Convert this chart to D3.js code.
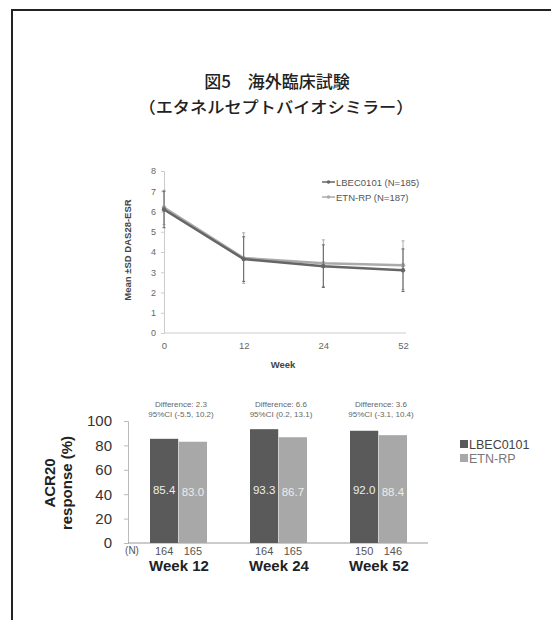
<!DOCTYPE html>
<html>
<head>
<meta charset="utf-8">
<script src="https://cdn.jsdelivr.net/npm/d3@7"></script>
<style>
  body { margin: 0; background: #fff; }
  text { font-family: "Liberation Sans", Arial, sans-serif; }
</style>
</head>
<body>
<div id="chart"></div>
<script>
// line chart data (DAS28-ESR mean, SD)
var weeks = ["0", "12", "24", "52"];
var lbecMean = [6.1, 3.65, 3.3, 3.1];
var lbecSD = [0.9, 1.1, 1.05, 1.05];
var etnMean = [6.2, 3.7, 3.45, 3.35];
var etnSD = [0.85, 1.25, 1.15, 1.2];
var lineYTicks = [0, 1, 2, 3, 4, 5, 6, 7, 8];

// bar chart data (ACR20)
var groups = ["Week 12", "Week 24", "Week 52"];
var series = ["LBEC0101", "ETN-RP"];
var lbecAcr = [85.4, 93.3, 92.0];
var etnAcr = [83.0, 86.7, 88.4];
var lbecN = [164, 164, 150];
var etnN = [165, 165, 146];
var diffText = ["Difference: 2.3", "Difference: 6.6", "Difference: 3.6"];
var ciText = ["95%CI (-5.5, 10.2)", "95%CI (0.2, 13.1)", "95%CI (-3.1, 10.4)"];
var barYTicks = [0, 20, 40, 60, 80, 100];

var width = 551, height = 620;
var svg = d3.select("#chart").append("svg")
    .attr("width", width)
    .attr("height", height);

// frame (cut off at right / bottom like the scan)
svg.append("rect")
    .attr("x", 12).attr("y", 10)
    .attr("width", 600).attr("height", 700)
    .attr("fill", "none")
    .attr("stroke", "#222")
    .attr("stroke-width", 2);

// title
svg.append("text")
    .attr("x", 277).attr("y", 88)
    .attr("text-anchor", "middle")
    .style("font-family", "'Noto Sans CJK JP', sans-serif")
    .style("font-size", "17px")
    .style("font-weight", 500)
    .attr("fill", "#222")
    .text("図5\u3000海外臨床試験");
svg.append("text")
    .attr("x", 276).attr("y", 113)
    .attr("text-anchor", "middle")
    .attr("textLength", 275)
    .attr("lengthAdjust", "spacingAndGlyphs")
    .style("font-family", "'Noto Sans CJK JP', sans-serif")
    .style("font-size", "16px")
    .style("font-weight", 500)
    .attr("fill", "#222")
    .text("（エタネルセプトバイオシミラー）");

// ---------------- line chart ----------------
var x = d3.scalePoint().domain(weeks).range([164, 403]);
var y = d3.scaleLinear().domain([0, 8]).range([333, 171]);

var yAxisL = svg.append("g")
    .attr("transform", "translate(164,0)")
    .call(d3.axisLeft(y).tickValues(lineYTicks).tickSize(3).tickPadding(5));
yAxisL.select(".domain").attr("stroke", "#ccc");
yAxisL.selectAll(".tick line").attr("stroke", "#ccc");
yAxisL.selectAll("text").attr("fill", "#666").style("font-size", "9px");

var xAxisL = svg.append("g")
    .attr("transform", "translate(0,333)")
    .call(d3.axisBottom(x).tickSize(0).tickPadding(9));
xAxisL.select(".domain").attr("stroke", "#ccc").attr("d", "M164,0H406");
xAxisL.selectAll("text").attr("fill", "#666").style("font-size", "9.5px");

svg.append("text")
    .attr("x", 283).attr("y", 368)
    .attr("text-anchor", "middle")
    .style("font-size", "9.5px").style("font-weight", "bold")
    .attr("fill", "#444")
    .text("Week");

svg.append("text")
    .attr("transform", "translate(131,250) rotate(-90)")
    .attr("text-anchor", "middle")
    .style("font-size", "9.5px").style("font-weight", "bold")
    .attr("fill", "#444")
    .text("Mean ±SD DAS28-ESR");

var lineSeries = [
  {name: "ETN-RP (N=187)", mean: etnMean, sd: etnSD, color: "#aaa"},
  {name: "LBEC0101 (N=185)", mean: lbecMean, sd: lbecSD, color: "#666"}
];
var line = d3.line()
    .x(function (d, i) { return x(weeks[i]); })
    .y(function (d) { return y(d); });

lineSeries.forEach(function (s) {
  var g = svg.append("g");
  g.selectAll("line.err")
    .data(s.mean)
    .enter().append("line")
      .attr("x1", function (d, i) { return x(weeks[i]); })
      .attr("x2", function (d, i) { return x(weeks[i]); })
      .attr("y1", function (d, i) { return y(d - s.sd[i]); })
      .attr("y2", function (d, i) { return y(d + s.sd[i]); })
      .attr("stroke", s.color).attr("stroke-width", 1);
  g.selectAll("line.cap")
    .data(s.mean.concat(s.mean))
    .enter().append("line")
      .attr("x1", function (d, i) { return x(weeks[i % 4]) - 1.5; })
      .attr("x2", function (d, i) { return x(weeks[i % 4]) + 1.5; })
      .attr("y1", function (d, i) { return y(i < 4 ? d - s.sd[i] : d + s.sd[i % 4]); })
      .attr("y2", function (d, i) { return y(i < 4 ? d - s.sd[i] : d + s.sd[i % 4]); })
      .attr("stroke", s.color).attr("stroke-width", 1);
  g.append("path")
    .datum(s.mean)
    .attr("d", line)
    .attr("fill", "none")
    .attr("stroke", s.color)
    .attr("stroke-width", 2.5);
  g.selectAll("circle")
    .data(s.mean)
    .enter().append("circle")
      .attr("cx", function (d, i) { return x(weeks[i]); })
      .attr("cy", function (d) { return y(d); })
      .attr("r", 2.2)
      .attr("fill", s.color);
});

// legend for line chart
var lineLeg = [lineSeries[1], lineSeries[0]];
lineLeg.forEach(function (s, i) {
  var ly = 182 + i * 15;
  svg.append("line")
    .attr("x1", 322).attr("x2", 335)
    .attr("y1", ly).attr("y2", ly)
    .attr("stroke", s.color).attr("stroke-width", 1.5);
  svg.append("circle").attr("cx", 328.5).attr("cy", ly).attr("r", 1.8).attr("fill", s.color);
  svg.append("text")
    .attr("x", 336).attr("y", ly + 3.5)
    .style("font-size", "9.5px")
    .attr("fill", "#555")
    .text(s.name);
});

// ---------------- bar chart ----------------
var x0 = d3.scaleBand().domain(groups).range([128, 428]);
var x1 = d3.scaleBand().domain(series).range([22, 79]).paddingInner(0.02);
var yb = d3.scaleLinear().domain([0, 100]).range([543, 421]);
var barColor = {"LBEC0101": "#5a5a5a", "ETN-RP": "#a8a8a8"};
var labelColor = {"LBEC0101": "#eee", "ETN-RP": "#ececec"};

var yAxisB = svg.append("g")
    .attr("transform", "translate(128,0)")
    .call(d3.axisLeft(yb).tickValues(barYTicks).tickSize(4).tickPadding(12));
yAxisB.select(".domain").attr("stroke", "#bbb");
yAxisB.selectAll(".tick line").attr("stroke", "#bbb");
yAxisB.selectAll("text").attr("fill", "#333").style("font-size", "15px");

svg.append("line")
    .attr("x1", 128).attr("x2", 428)
    .attr("y1", yb(0)).attr("y2", yb(0))
    .attr("stroke", "#999");

var barData = [];
groups.forEach(function (g, i) {
  barData.push({group: g, s: "LBEC0101", v: lbecAcr[i], n: lbecN[i]});
  barData.push({group: g, s: "ETN-RP", v: etnAcr[i], n: etnN[i]});
});

svg.append("g").selectAll("rect")
  .data(barData)
  .enter().append("rect")
    .attr("x", function (d) { return x0(d.group) + x1(d.s); })
    .attr("y", function (d) { return yb(d.v); })
    .attr("width", x1.bandwidth())
    .attr("height", function (d) { return yb(0) - yb(d.v); })
    .attr("fill", function (d) { return barColor[d.s]; });

svg.append("g").selectAll("text")
  .data(barData)
  .enter().append("text")
    .attr("x", function (d) { return x0(d.group) + x1(d.s) + x1.bandwidth() / 2; })
    .attr("y", function (d) { return d.s === "LBEC0101" ? 494 : 496; })
    .attr("text-anchor", "middle")
    .style("font-size", "11.5px")
    .attr("fill", function (d) { return labelColor[d.s]; })
    .text(function (d) { return d.v.toFixed(1); });

// N row
svg.append("text")
    .attr("x", 132).attr("y", 554)
    .attr("text-anchor", "middle")
    .style("font-size", "10px").attr("fill", "#555")
    .text("(N)");
svg.append("g").selectAll("text")
  .data(barData)
  .enter().append("text")
    .attr("x", function (d) { return x0(d.group) + x1(d.s) + x1.bandwidth() / 2; })
    .attr("y", 555)
    .attr("text-anchor", "middle")
    .style("font-size", "11px").attr("fill", "#555")
    .text(function (d) { return d.n; });

// group labels
svg.append("g").selectAll("text")
  .data(groups)
  .enter().append("text")
    .attr("x", function (d) { return x0(d) + x0.bandwidth() / 2 + 1; })
    .attr("y", 571)
    .attr("text-anchor", "middle")
    .style("font-size", "15px").style("font-weight", "bold")
    .attr("fill", "#222")
    .text(function (d) { return d; });

// difference annotations
svg.append("g").selectAll("text")
  .data(groups)
  .enter().append("text")
    .attr("x", function (d) { return x0(d) + x0.bandwidth() / 2 + 3; })
    .attr("y", 407)
    .attr("text-anchor", "middle")
    .style("font-size", "8px").attr("fill", "#666")
    .text(function (d, i) { return diffText[i]; });
svg.append("g").selectAll("text")
  .data(groups)
  .enter().append("text")
    .attr("x", function (d) { return x0(d) + x0.bandwidth() / 2 + 3; })
    .attr("y", 417)
    .attr("text-anchor", "middle")
    .style("font-size", "8px").attr("fill", "#666")
    .text(function (d, i) { return ciText[i]; });

// y label
svg.append("text")
    .attr("transform", "translate(55,483) rotate(-90)")
    .attr("text-anchor", "middle")
    .style("font-size", "15px").style("font-weight", "bold")
    .attr("fill", "#222")
    .text("ACR20");
svg.append("text")
    .attr("transform", "translate(72,483) rotate(-90)")
    .attr("text-anchor", "middle")
    .style("font-size", "15px").style("font-weight", "bold")
    .attr("fill", "#222")
    .text("response (%)");

// bar legend
series.forEach(function (s, i) {
  var ly = 444 + i * 14;
  svg.append("rect")
    .attr("x", 460).attr("y", ly - 4)
    .attr("width", 8).attr("height", 8)
    .attr("fill", barColor[s]);
  svg.append("text")
    .attr("x", 469).attr("y", ly + 4.5)
    .style("font-size", "12.5px")
    .attr("fill", i === 0 ? "#444" : "#777")
    .text(s);
});
</script>
</body>
</html>
